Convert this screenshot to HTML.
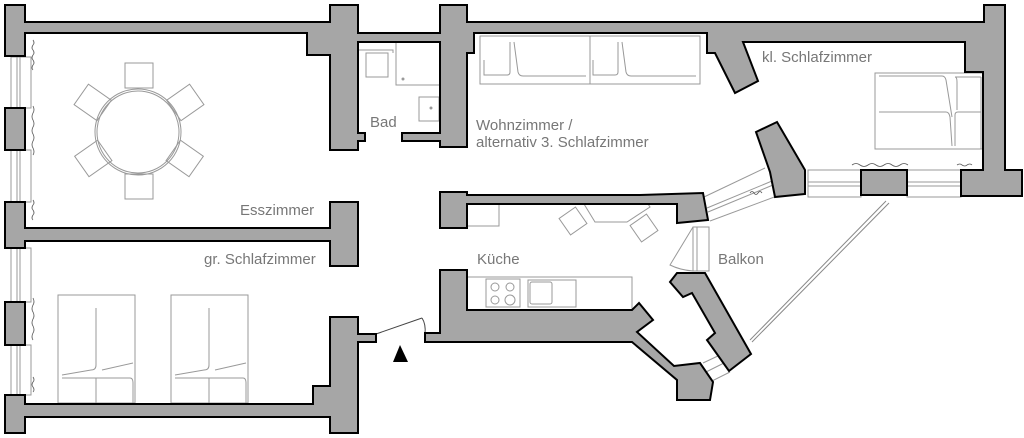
<!DOCTYPE html>
<html><head><meta charset="utf-8"><style>
html,body{margin:0;padding:0;background:#fff;}
svg{display:block;}
text{font-family:"Liberation Sans",sans-serif;font-size:15px;fill:#777;}
</style></head><body>
<svg width="1024" height="438" viewBox="0 0 1024 438" xmlns="http://www.w3.org/2000/svg">
<g fill="none" stroke="#999" stroke-width="1">
<!-- left windows -->
<rect x="11" y="57" width="20" height="51"/><line x1="17" y1="57" x2="17" y2="108"/><line x1="20" y1="57" x2="20" y2="108"/>
<rect x="11" y="150" width="20" height="52"/><line x1="17" y1="150" x2="17" y2="202"/><line x1="20" y1="150" x2="20" y2="202"/>
<rect x="11" y="248" width="20" height="54"/><line x1="17" y1="248" x2="17" y2="302"/><line x1="20" y1="248" x2="20" y2="302"/>
<rect x="11" y="345" width="20" height="50"/><line x1="17" y1="345" x2="17" y2="395"/><line x1="20" y1="345" x2="20" y2="395"/>
<!-- right windows -->
<rect x="808" y="170" width="53" height="27"/><line x1="808" y1="182" x2="861" y2="182"/><line x1="808" y1="186" x2="861" y2="186"/>
<rect x="907" y="170" width="54" height="27"/><line x1="907" y1="182" x2="961" y2="182"/><line x1="907" y1="186" x2="961" y2="186"/>
<!-- diagonal window -->
<line x1="704" y1="197" x2="765" y2="168"/><line x1="710" y1="221" x2="777" y2="196"/>
<line x1="707" y1="208" x2="772" y2="181"/><line x1="708" y1="212" x2="773" y2="185"/>
<!-- balcony door -->
<rect x="693" y="227" width="16" height="44"/><line x1="697" y1="227" x2="697" y2="271"/>
<path d="M693 227 L670 265 Q680 270 693 271"/>
<!-- small bottom window -->
<line x1="703" y1="363" x2="720" y2="355"/><line x1="710" y1="382" x2="730" y2="372"/>
<line x1="706" y1="372" x2="724" y2="363"/>
<!-- railing -->
<line x1="889" y1="203" x2="752" y2="342" stroke="#888"/><line x1="886" y1="201" x2="750" y2="340" stroke="#888"/>
<!-- entrance door -->
<line x1="376" y1="334" x2="422" y2="318" stroke="#444"/><path d="M422 318 Q426 324 425 334" stroke="#444"/>
</g>
<!-- curtains -->
<g fill="none" stroke="#555" stroke-width="0.8">
<path d="M33 40 q2 3 0 5 q-2 3 0 5 q2 3 0 5 q-2 3 0 5 q2 3 0 5 q-2 3 0 5"/>
<path d="M33 106 q2 4 0 7 q-2 4 0 7 q2 4 0 7 q-2 4 0 7 q2 4 0 7 q-2 4 0 7 q2 4 0 7"/>
<path d="M33 200 q2 3 0 5 q-2 3 0 5 q2 3 0 5 q-2 3 0 5"/>
<path d="M33 298 q2 4 0 7 q-2 4 0 7 q2 4 0 7 q-2 4 0 7 q2 4 0 7 q-2 4 0 7"/>
<path d="M33 377 q2 3 0 5 q-2 3 0 5 q2 3 0 5"/>
<path d="M852 165 q4 -3 8 0 q4 3 8 0 q4 -3 8 0 q4 3 8 0 q4 -3 8 0 q4 3 8 0 q4 -3 8 0"/>
<path d="M957 165 q3 -2 5 0 q3 2 5 0 q3 -2 5 0"/>
<path d="M750 193 q2 -3 4 0 q2 3 4 0 q2 -3 4 0"/>
<path d="M688 219 q2 -3 4 0 q2 3 4 0 q2 -3 4 0"/>
</g>
<!-- furniture -->
<g fill="none" stroke="#999" stroke-width="1">
<circle cx="138" cy="132" r="41"/><circle cx="138" cy="132" r="43"/>
<rect x="125" y="63" width="28" height="25"/><rect x="125" y="174" width="28" height="25"/>
<rect x="79" y="90" width="28" height="25" transform="rotate(35 93 102)"/>
<rect x="171" y="90" width="28" height="25" transform="rotate(-35 185 102)"/>
<rect x="79" y="146" width="28" height="25" transform="rotate(-35 93 158)"/>
<rect x="171" y="146" width="28" height="25" transform="rotate(35 185 158)"/>
<!-- beds gr -->
<rect x="58" y="295" width="77" height="108"/><rect x="171" y="295" width="77" height="108"/>
<path d="M96 308 V365 q0 5 -5 5 L62 375 M133 363 L102 370 M62 378 H96 q0 0 0 10 V403 M96 378 H130 q3 0 3 5 V403"/>
<path d="M209 308 V365 q0 5 -5 5 L175 375 M246 363 L215 370 M175 378 H209 V403 M209 378 H243 q3 0 3 5 V403"/>
<!-- bad -->
<rect x="366" y="53" width="22" height="24"/><path d="M358 50 H393 V53 M396 42 V85 H440"/>
<circle cx="403" cy="79" r="1" fill="#999"/><rect x="419" y="97" width="20" height="24"/><circle cx="431" cy="108" r="1" fill="#999"/>
<!-- sofas -->
<rect x="480" y="36" width="220" height="48"/><line x1="590" y1="36" x2="590" y2="84"/>
<path d="M484 60 V75 H507 q3 0 3 -3 V42 M514 42 L518 72 q1 4 5 4 H586 M593 60 V75 H615 q3 0 3 -3 V42 M622 42 L626 72 q1 4 5 4 H696"/>
<!-- bed kl -->
<rect x="875" y="73" width="108" height="76"/>
<path d="M879 76 H942 q3 0 4 4 L952 117 M955 77 H981 M879 112 H946 q3 0 4 5 L952 146 M955 146 V115 q0 -3 3 -3 H981 M955 77 q2 0 2 5 V110 M981 77 V149"/>
<!-- kitchen -->
<path d="M467 205 V226 H499 V205"/>
<path d="M584 204 L595 222 H627 L650 207 L648 204"/>
<rect x="563" y="211" width="20" height="20" transform="rotate(-35 573 221)"/>
<rect x="634" y="218" width="20" height="20" transform="rotate(-35 644 228)"/>
<rect x="467" y="277" width="165" height="33"/>
<rect x="486" y="279" width="34" height="28"/>
<circle cx="495" cy="287" r="4"/><circle cx="510" cy="287" r="4"/><circle cx="495" cy="300" r="4"/><circle cx="510" cy="300" r="5"/>
<rect x="528" y="280" width="48" height="27"/><rect x="530" y="282" width="22" height="22" rx="2"/>
</g>
<!-- walls -->
<g fill="#a6a6a6" stroke="#000" stroke-width="2" stroke-linejoin="miter">
<polygon points="5,5 25,5 25,22 330,22 330,5 358,5 358,33 440,33 440,5 467,5 467,22 984,22 984,5 1005,5 1005,170 1022,170 1022,196 961,196 961,170 983,170 983,72 965,72 965,42 743,42 758,81 735,93 715,53 707,53 707,33 474,33 474,53 467,53 467,147 440,147 440,141 402,141 402,133 440,133 440,42 358,42 358,133 365,133 365,141 358,141 358,150 330,150 330,55 307,55 307,33 25,33 25,56 5,56"/>
<rect x="5" y="108" width="20" height="42"/>
<polygon points="5,202 25,202 25,228 330,228 330,202 358,202 358,266 330,266 330,241 25,241 25,248 5,248"/>
<rect x="5" y="302" width="20" height="43"/>
<polygon points="5,395 25,395 25,404 313,404 313,386 330,386 330,317 358,317 358,334 376,334 376,342 358,342 358,433 330,433 330,417 25,417 25,433 5,433"/>
<polygon points="440,192 467,192 467,195 640,195 703,193 708,220 677,223 677,204 467,204 467,228 440,228"/>
<polygon points="425,333 440,333 440,270 467,270 467,310 632,310 639,303 653,320 637,332 674,366 700,363 713,382 710,400 677,400 677,380 632,342 425,342"/>
<polygon points="670,282 677,273 705,273 751,354 729,371 707,340 715,333 692,293 683,297"/>
<polygon points="756,132 777,122 805,170 805,194 775,197 770,172"/>
<rect x="861" y="170" width="46" height="25"/>
</g>
<polygon points="393,362 400,345 408,362" fill="#000"/>
<text x="370" y="127">Bad</text>
<text x="476" y="130">Wohnzimmer /</text>
<text x="476" y="147">alternativ 3. Schlafzimmer</text>
<text x="762" y="62">kl. Schlafzimmer</text>
<text x="240" y="215">Esszimmer</text>
<text x="204" y="264">gr. Schlafzimmer</text>
<text x="477" y="264">Küche</text>
<text x="718" y="264">Balkon</text>
</svg>
</body></html>
